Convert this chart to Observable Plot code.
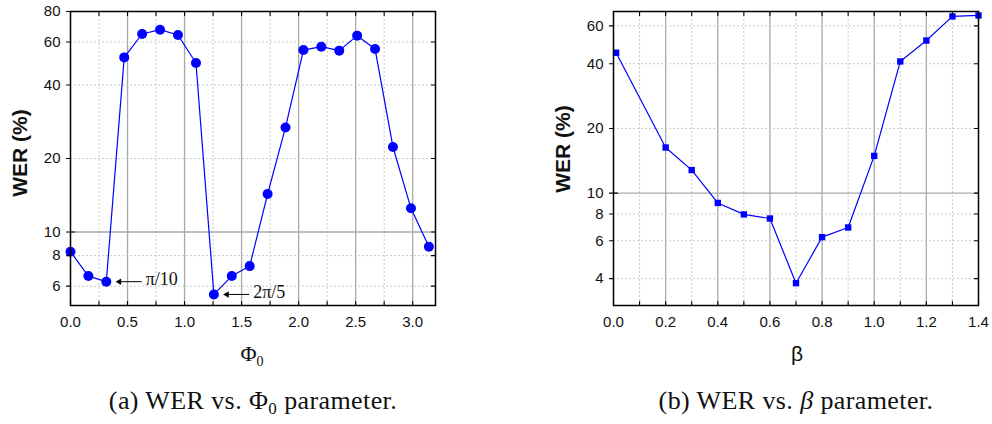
<!DOCTYPE html>
<html><head><meta charset="utf-8">
<script src="https://cdn.jsdelivr.net/npm/d3@7"></script>
<script src="https://cdn.jsdelivr.net/npm/@observablehq/plot@0.6"></script>
<style>
body{margin:0;background:#fff;}
#wrap{position:relative;width:992px;height:424px;overflow:hidden;background:#fff;}
.chart{position:absolute;top:0;}
#a{left:0}
#b{left:496px}
.cap{position:absolute;top:388px;font-family:"Liberation Serif",serif;font-size:26px;letter-spacing:0.4px;line-height:1;color:#111;white-space:nowrap;transform:translateX(-50%);}
.cap sub{font-size:17px;vertical-align:-5px;line-height:0;}
</style></head>
<body><div id="wrap"><div id="a" class="chart"></div><div id="b" class="chart"></div>
<div class="cap" style="left:253px">(a) WER vs. Φ<sub>0</sub> parameter.</div>
<div class="cap" style="left:796px">(b) WER vs. <i>β</i> parameter.</div></div>
<script>
// ---- data: panel (a) ----
const phiX = [0, 0.157, 0.314, 0.471, 0.628, 0.785, 0.942, 1.100, 1.257, 1.414, 1.571, 1.728, 1.885, 2.042, 2.199, 2.356, 2.513, 2.670, 2.827, 2.985, 3.142];
const phiWER = [8.3, 6.6, 6.26, 51.9, 64.7, 67.4, 64.1, 49.2, 5.55, 6.6, 7.25, 14.3, 26.8, 55.6, 57.4, 55.3, 63.7, 56.2, 22.3, 12.5, 8.7];
const phiXTicks = [0, 0.5, 1.0, 1.5, 2.0, 2.5, 3.0];
const phiXMinor = [0.25, 0.75, 1.25, 1.75, 2.25, 2.75];
const phiYTicks = [6, 8, 10, 20, 40, 60, 80];
const annText = ["π/10", "2π/5"];
const annX = [0.314, 1.257];
const annY = [6.26, 5.55];
// ---- data: panel (b) ----
const betaX = [0.01, 0.2, 0.3, 0.4, 0.5, 0.6, 0.7, 0.8, 0.9, 1.0, 1.1, 1.2, 1.3, 1.4];
const betaWER = [45, 16.3, 12.8, 9.0, 7.96, 7.62, 3.81, 6.24, 6.92, 14.9, 41.0, 51.3, 66.4, 67.1];
const betaXTicks = [0, 0.2, 0.4, 0.6, 0.8, 1.0, 1.2, 1.4];
const betaXMinor = [0.1, 0.3, 0.5, 0.7, 0.9, 1.1, 1.3];
const betaYTicks = [4, 6, 8, 10, 20, 40, 60];
const majorY = [10];

const phiData = phiX.map((x, i) => ({x, y: phiWER[i]}));
const betaData = betaX.map((x, i) => ({x, y: betaWER[i]}));
const ann = annText.map((t, i) => ({t, x: annX[i], y: annY[i]}));

const BLUE = "#0000ff";
const tickShape = {draw(ctx, l) { ctx.moveTo(0, 0); ctx.lineTo(0, -l); }};
const gridMajor = {stroke: "#a8a8a8", strokeWidth: 1.3};
const gridMinor = {stroke: "#c4c4c4", strokeWidth: 0.9, strokeDasharray: "2,2"};

function frameTicks(xAll, yAll) {
  const o = {stroke: "black", strokeWidth: 1.1, length: 4, anchor: "start", shape: tickShape};
  return [
    Plot.vector(xAll, {...o, x: d => d, frameAnchor: "bottom", rotate: 0}),
    Plot.vector(xAll, {...o, x: d => d, frameAnchor: "top", rotate: 180}),
    Plot.vector(yAll, {...o, y: d => d, frameAnchor: "right", rotate: -90}),
    Plot.vector(yAll, {...o, y: d => d, frameAnchor: "left", rotate: -90}),
    Plot.vector(majorY, {...o, y: d => d, frameAnchor: "left", rotate: 90})
  ];
}
function yLabels(ticks) {
  return Plot.text(ticks, {y: d => d, text: d => String(d), frameAnchor: "left", dx: -10, textAnchor: "end", fontSize: 15, fill: "#111"});
}

const style = {fontFamily: "'Liberation Sans', Arial, sans-serif", fontSize: "15px", color: "#111", background: "white", overflow: "visible"};

function addLabels(svg, yLabelX, yLabelY, xLabelX, xLabelY, xLabelHTML) {
  const s = d3.select(svg);
  s.append("text").attr("transform", `translate(${yLabelX},${yLabelY}) rotate(-90)`)
    .attr("text-anchor", "middle").attr("dy", "0.35em")
    .style("font", "bold 21px 'Liberation Sans', Arial, sans-serif").attr("fill", "#111").text("WER (%)");
  xLabelHTML(s.append("text").attr("x", xLabelX).attr("y", xLabelY).attr("text-anchor", "middle").attr("fill", "#111"));
}

const plotA = Plot.plot({
  width: 496, height: 370,
  marginLeft: 70, marginRight: 61, marginTop: 11, marginBottom: 65,
  style,
  x: {domain: [0, 3.2], label: null},
  y: {type: "log", domain: [5, 80], label: null, axis: null},
  marks: [
    Plot.ruleX(phiXMinor, {x: d => d, ...gridMinor}),
    Plot.ruleX(phiXTicks.slice(1), {x: d => d, ...gridMajor}),
    Plot.ruleY(phiYTicks.filter(d => d !== 10 && d !== 80), {y: d => d, ...gridMinor}),
    Plot.ruleY(majorY, {y: d => d, ...gridMajor}),
    Plot.line(phiData, {x: "x", y: "y", stroke: BLUE, strokeWidth: 1.2}),
    Plot.dot(phiData, {x: "x", y: "y", r: 5, fill: BLUE, stroke: null}),
    Plot.link(ann, {x1: d => d.x + 0.31, x2: d => d.x + 0.11, y1: "y", y2: "y", stroke: "black", strokeWidth: 1}),
    Plot.dot(ann, {x: d => d.x + 0.114, y: "y", symbol: "triangle", r: 2.4, rotate: -90, fill: "black", stroke: null}),
    Plot.text(ann, {x: d => d.x + 0.345, y: "y", text: "t", textAnchor: "start", dy: -2, fontFamily: "'Liberation Serif', serif", fontSize: 18, fill: "#111"}),
    Plot.frame({stroke: "black", strokeWidth: 1.5}),
    yLabels(phiYTicks),
    Plot.axisX({ticks: phiXTicks, tickSize: 0, tickPadding: 11, tickFormat: d3.format(".1f"), label: null, fontSize: 15}),
    ...frameTicks([...phiXTicks, ...phiXMinor], phiYTicks)
  ]
});
addLabels(plotA, 20, 153, 252, 361, t => {
  t.style("font", "22px 'Liberation Serif', serif");
  t.append("tspan").text("Φ");
  t.append("tspan").attr("font-size", 14).attr("dy", 5).text("0");
});
document.getElementById("a").appendChild(plotA);

const plotB = Plot.plot({
  width: 496, height: 370,
  marginLeft: 117, marginRight: 14, marginTop: 11, marginBottom: 65,
  style,
  x: {domain: [0, 1.4], label: null},
  y: {type: "log", domain: [3, 70], label: null, axis: null},
  marks: [
    Plot.ruleX(betaXMinor, {x: d => d, ...gridMinor}),
    Plot.ruleX(betaXTicks.slice(1, -1), {x: d => d, ...gridMajor}),
    Plot.ruleY(betaYTicks.filter(d => d !== 10), {y: d => d, ...gridMinor}),
    Plot.ruleY(majorY, {y: d => d, ...gridMajor}),
    Plot.line(betaData, {x: "x", y: "y", stroke: BLUE, strokeWidth: 1.2}),
    Plot.dot(betaData, {x: "x", y: "y", symbol: "square", r: 3.6, fill: BLUE, stroke: null}),
    Plot.frame({stroke: "black", strokeWidth: 1.5}),
    yLabels(betaYTicks),
    Plot.axisX({ticks: betaXTicks, tickSize: 0, tickPadding: 11, tickFormat: d3.format(".1f"), label: null, fontSize: 15}),
    ...frameTicks([...betaXTicks, ...betaXMinor], betaYTicks)
  ]
});
addLabels(plotB, 67, 149, 301, 361, t => {
  t.style("font", "21px 'Liberation Sans', Arial, sans-serif");
  t.text("β");
});
document.getElementById("b").appendChild(plotB);
</script>
</body></html>
